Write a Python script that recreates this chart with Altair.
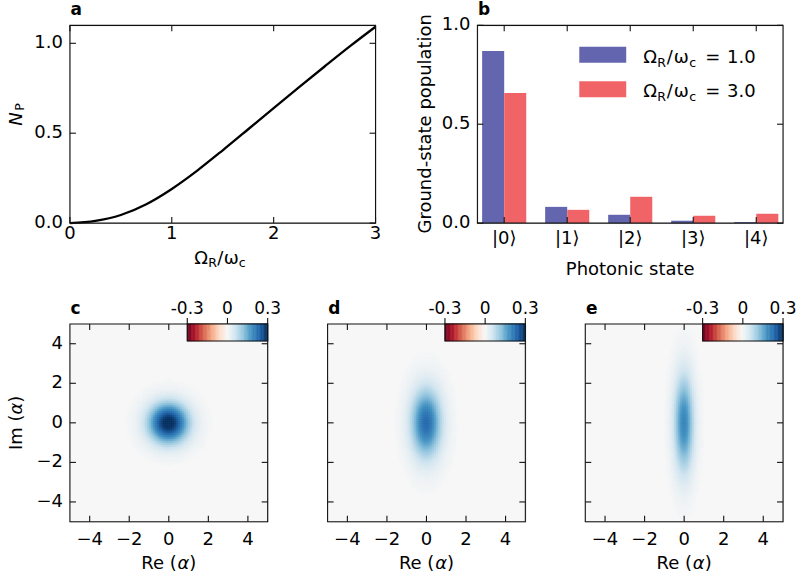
import altair as alt
import numpy as np
import pandas as pd

alt.data_transformers.disable_max_rows()

FONT = "DejaVu Sans"

# ---------------- data ----------------
# panel a: mean photon number vs coupling
omega_ratio = [0.0, 0.25, 0.5, 0.75, 1.0, 1.25, 1.5, 1.75, 2.0, 2.25, 2.5, 2.75, 3.0]
n_photons = [0.0, 0.0125, 0.045, 0.105, 0.19, 0.292, 0.405, 0.522, 0.64, 0.756, 0.871, 0.984, 1.092]
a_xticks = [0, 1, 2, 3]
a_xlabels = ["0", "1", "2", "3"]
a_yticks = [0.0, 0.5, 1.0]
a_ylabels = ["0.0", "0.5", "1.0"]

# panel b: ground-state populations of Fock states
photon_states = [0, 1, 2, 3, 4]
state_labels = ["|0⟩", "|1⟩", "|2⟩", "|3⟩", "|4⟩"]
pop_ratio_1 = [0.870, 0.082, 0.042, 0.012, 0.005]
pop_ratio_3 = [0.658, 0.067, 0.133, 0.037, 0.047]
legend_values = ["1.0", "3.0"]
b_yticks = [0.0, 0.5, 1.0]
b_ylabels = ["0.0", "0.5", "1.0"]

wig_panels = ["c", "d", "e"]
wig_peak = [0.318, 0.235, 0.20]
wig_sigma_re = [0.707, 0.54, 0.35]
wig_sigma_im = [0.707, 1.22, 1.72]
w_ticks = [-4, -2, 0, 2, 4]
w_labels = ["−4", "−2", "0", "2", "4"]

cbar_ticks = [-0.3, 0.0, 0.3]
cbar_tick_labels = ["-0.3", "0", "0.3"]

# ---------------- style ----------------
BLUE = "#6366ae"
RED = "#f06468"
INK = "#111111"
RDBU = ["#67001f", "#b2182b", "#d6604d", "#f4a582", "#fddbc7", "#f7f7f7",
        "#d1e5f0", "#92c5de", "#4393c3", "#2166ac", "#053061"]
AW, AH = 306, 198
BW, BH = 306, 198
HW = 198

ONE = pd.DataFrame({"k": [0]})
EM = {' ': 0.318, '(': 0.390, ')': 0.390, '/': 0.337, '=': 0.838, '.': 0.318, 'R': 0.695,
      'e': 0.615, 'I': 0.295, 'm': 0.974, 'N': 0.748, 'P': 0.603, 'c': 0.550,
      'Ω': 0.764, 'ω': 0.802, 'α': 0.659}
for d in "0123456789":
    EM[d] = 0.636


def wid(s, size):
    return sum(EM.get(ch, 0.6) for ch in s) * size


def txt(s, x, y, size=18, angle=0, align="left", baseline="alphabetic", weight="normal", style="normal"):
    return alt.Chart(ONE).mark_text(
        text=s, font=FONT, fontSize=size, angle=angle, align=align, baseline=baseline,
        fontWeight=weight, fontStyle=style, color="black"
    ).encode(x=alt.value(x), y=alt.value(y))


def seq_rot(segs, x, y):
    out = []
    pos = 0.0
    for s, size, shift, style in segs:
        out.append(txt(s, x + shift, y - pos, size, angle=270, style=style))
        pos += wid(s, size)
    return out


def frame(W, H):
    return alt.Chart(ONE).mark_rect(filled=False, stroke=INK, strokeWidth=1.1).encode(
        x=alt.value(0), x2=alt.value(W), y=alt.value(0), y2=alt.value(H))


def ticks(xvals, yvals, xs, ys, W, H, tl=6):
    bx = alt.Chart(pd.DataFrame({"t": xvals}))
    by = alt.Chart(pd.DataFrame({"t": yvals}))
    kw = dict(color=INK, strokeWidth=1.1)
    return [
        bx.mark_rule(**kw).encode(x=alt.X("t:Q", scale=xs, axis=None), y=alt.value(H), y2=alt.value(H - tl)),
        bx.mark_rule(**kw).encode(x=alt.X("t:Q", scale=xs, axis=None), y=alt.value(0), y2=alt.value(tl)),
        by.mark_rule(**kw).encode(y=alt.Y("t:Q", scale=ys, axis=None), x=alt.value(0), x2=alt.value(tl)),
        by.mark_rule(**kw).encode(y=alt.Y("t:Q", scale=ys, axis=None), x=alt.value(W), x2=alt.value(W - tl)),
    ]


def xlabels(vals, labs, xs, H, pad):
    return alt.Chart(pd.DataFrame({"t": vals, "lab": labs})).mark_text(
        font=FONT, fontSize=18, align="center", baseline="top", color="black"
    ).encode(x=alt.X("t:Q", scale=xs, axis=None), y=alt.value(H + pad), text="lab:N")


def ylabels(vals, labs, ys, pad):
    return alt.Chart(pd.DataFrame({"t": vals, "lab": labs})).mark_text(
        font=FONT, fontSize=18, align="right", baseline="middle", color="black"
    ).encode(y=alt.Y("t:Q", scale=ys, axis=None), x=alt.value(-pad), text="lab:N")


# ---------------- panel a ----------------
df_a = pd.DataFrame({"r": omega_ratio, "n": n_photons})
xs_a = alt.Scale(domain=[0, 3], nice=False, zero=False)
ys_a = alt.Scale(domain=[0, 1.1], nice=False, zero=False)
line_a = alt.Chart(df_a).mark_line(color="black", strokeWidth=2.3, interpolate="monotone").encode(
    x=alt.X("r:Q", scale=xs_a, axis=None),
    y=alt.Y("n:Q", scale=ys_a, axis=None),
)
anchor_tl = alt.Chart(ONE).mark_rect(opacity=0).encode(
    x=alt.value(-69.5), x2=alt.value(-69), y=alt.value(-24.5), y2=alt.value(-24))
a_title_x = [
    txt("Ω", 124.5, 238.8), txt("R", 138.5, 242.3, 12.6),
    txt("/", 147.5, 238.8), txt("ω", 154, 238.8), txt("c", 169, 242.3, 12.6),
]
a_title_y = [txt("N", -47.5, 100.5, 18, angle=270, style="italic"),
             txt("P", -45.5, 85.5, 12.6, angle=270)]
panel_a = alt.layer(
    anchor_tl, line_a, *ticks(a_xticks, a_yticks, xs_a, ys_a, AW, AH), frame(AW, AH),
    xlabels(a_xticks, a_xlabels, xs_a, AH, 2), ylabels(a_yticks, a_ylabels, ys_a, 7),
    txt("a", 0.5, -10.3, 17, weight="bold"), *a_title_x, *a_title_y,
).properties(width=AW, height=AH)

# ---------------- panel b ----------------
df_b = pd.DataFrame({"k": photon_states, "p1": pop_ratio_1, "p3": pop_ratio_3})
df_b["l"] = df_b["k"] - 0.35
df_b["r"] = df_b["k"] + 0.35
xs_b = alt.Scale(domain=[-0.425, 4.425], nice=False, zero=False)
ys_b = alt.Scale(domain=[0, 1], nice=False, zero=False)
bars1 = alt.Chart(df_b).mark_rect(color=BLUE).encode(
    x=alt.X("l:Q", scale=xs_b, axis=None), x2="k:Q",
    y=alt.Y("p1:Q", scale=ys_b, axis=None), y2=alt.value(BH),
)
bars3 = alt.Chart(df_b).mark_rect(color=RED).encode(
    x=alt.X("k:Q", scale=xs_b, axis=None), x2="r:Q",
    y=alt.Y("p3:Q", scale=ys_b, axis=None), y2=alt.value(BH),
)
legend_b = []
for j, (col, lab) in enumerate(zip([BLUE, RED], legend_values)):
    dy = 34.4 * j
    legend_b.append(alt.Chart(ONE).mark_rect(color=col).encode(
        x=alt.value(102), x2=alt.value(149), y=alt.value(21.5 + dy), y2=alt.value(37.5 + dy)))
    bl = 37.8 + dy
    legend_b += [txt("Ω", 166, bl), txt("R", 180, bl + 3.7, 12.6), txt("/", 189.5, bl),
                 txt("ω", 196.5, bl), txt("c", 212, bl + 3.7, 12.6), txt("=", 228, bl),
                 txt(lab, 250, bl)]
panel_b = alt.layer(
    bars1, bars3, *ticks(photon_states, b_yticks, xs_b, ys_b, BW, BH), frame(BW, BH), *legend_b,
    xlabels(photon_states, state_labels, xs_b, BH, 7), ylabels(b_yticks, b_ylabels, ys_b, 7),
    txt("b", 0.5, -10.3, 17, weight="bold"),
    txt("Ground-state population", -46.5, 98.5, 18, angle=270, align="center"),
    txt("Photonic state", 153, 249.8, 18, align="center"),
).properties(width=BW, height=BH)

# ---------------- panels c-e ----------------
centers = np.round(np.arange(-4.95, 5.0, 0.1), 3)
GX, GY = np.meshgrid(centers, centers)
rows = []
for p, A, sx, sy in zip(wig_panels, wig_peak, wig_sigma_re, wig_sigma_im):
    W = A * np.exp(-GX ** 2 / (2 * sx ** 2) - GY ** 2 / (2 * sy ** 2))
    m = W > 0.003
    rows.append(pd.DataFrame({
        "panel": p,
        "x0": np.round(GX[m] - 0.05, 3), "x1": np.round(GX[m] + 0.05, 3),
        "y0": np.round(GY[m] - 0.05, 3), "y1": np.round(GY[m] + 0.05, 3),
        "w": np.round(W[m], 4),
    }))
cells = pd.concat(rows, ignore_index=True)

cb_edges = np.linspace(-0.3, 0.3, 61)
cb = pd.DataFrame({"v0": cb_edges[:-1], "v1": cb_edges[1:], "vm": (cb_edges[:-1] + cb_edges[1:]) / 2})
cbt_df = pd.DataFrame({"t": cbar_ticks, "lab": cbar_tick_labels})

hx = alt.Scale(domain=[-5, 5], nice=False, zero=False)
hy = alt.Scale(domain=[-5, 5], nice=False, zero=False)
hcol = alt.Scale(domain=[round(v, 3) for v in np.linspace(-0.3, 0.3, 11)], range=RDBU,
                 interpolate="rgb", clamp=True)
cbx = alt.Scale(domain=[-0.3, 0.3], range=[117.5, 198], nice=False, zero=False)


def heat_panel(i, p):
    bg = alt.Chart(ONE).mark_rect(color="#f7f7f7").encode(
        x=alt.value(0), x2=alt.value(HW), y=alt.value(0), y2=alt.value(HW))
    cl = alt.Chart(cells).transform_filter(alt.datum.panel == p).mark_rect(strokeWidth=0.6).encode(
        x=alt.X("x0:Q", scale=hx, axis=None),
        x2="x1:Q",
        y=alt.Y("y0:Q", scale=hy, axis=None),
        y2="y1:Q",
        color=alt.Color("w:Q", scale=hcol, legend=None),
        stroke=alt.Stroke("w:Q", scale=hcol, legend=None),
    )
    grad = alt.Chart(cb).mark_rect(strokeWidth=0.6).encode(
        x=alt.X("v0:Q", scale=cbx, axis=None), x2="v1:Q",
        y=alt.value(0), y2=alt.value(17),
        color=alt.Color("vm:Q", scale=hcol, legend=None),
        stroke=alt.Stroke("vm:Q", scale=hcol, legend=None),
    )
    cb_out = alt.Chart(ONE).mark_rect(filled=False, stroke=INK, strokeWidth=1.1).encode(
        x=alt.value(117.5), x2=alt.value(HW), y=alt.value(0), y2=alt.value(17))
    cb_tick = alt.Chart(cbt_df).mark_rule(color=INK, strokeWidth=1.1).encode(
        x=alt.X("t:Q", scale=cbx, axis=None), y=alt.value(-6), y2=alt.value(0))
    cb_lab = alt.Chart(cbt_df).mark_text(font=FONT, fontSize=17, align="center", baseline="alphabetic",
                                         color="black").encode(
        x=alt.X("t:Q", scale=cbx, axis=None), y=alt.value(-10), text="lab:N")
    layers = [bg, cl, *ticks(w_ticks, w_ticks, hx, hy, HW, HW), frame(HW, HW),
              grad, cb_out, cb_tick, cb_lab,
              xlabels(w_ticks, w_labels, hx, HW, 9),
              txt(p, 0.7, -10, 17, weight="bold"),
              txt("Re (", 71.4, 245), txt("α", 71.4 + wid("Re (", 18), 245, style="italic"),
              txt(")", 71.4 + wid("Re (α", 18), 245)]
    if i == 0:
        layers.append(ylabels(w_ticks, w_labels, hy, 7))
        layers += seq_rot([("Im (", 18, 0, "normal"), ("α", 18, 0, "italic"), (")", 18, 0, "normal")],
                          -47.6, 126.3)
    if i == 2:
        layers.append(alt.Chart(ONE).mark_rect(opacity=0).encode(
            x=alt.value(222.5), x2=alt.value(223), y=alt.value(258.5), y2=alt.value(259)))
    return alt.layer(*layers).resolve_scale(x="independent").properties(width=HW, height=HW)


panels_w = [heat_panel(i, p) for i, p in enumerate(wig_panels)]

top = alt.hconcat(panel_a, panel_b, spacing=102, bounds="flush")
bottom = alt.hconcat(*panels_w, spacing=60, bounds="flush")
# with flush bounds the nested rows count as zero height, so spacing = gap + row height
chart = alt.vconcat(top, bottom, spacing=101 + AH, bounds="flush").properties(padding=0).configure_view(
    stroke=None).configure(font=FONT)

chart.save("out.html", embed_options={"renderer": "svg", "actions": False})
